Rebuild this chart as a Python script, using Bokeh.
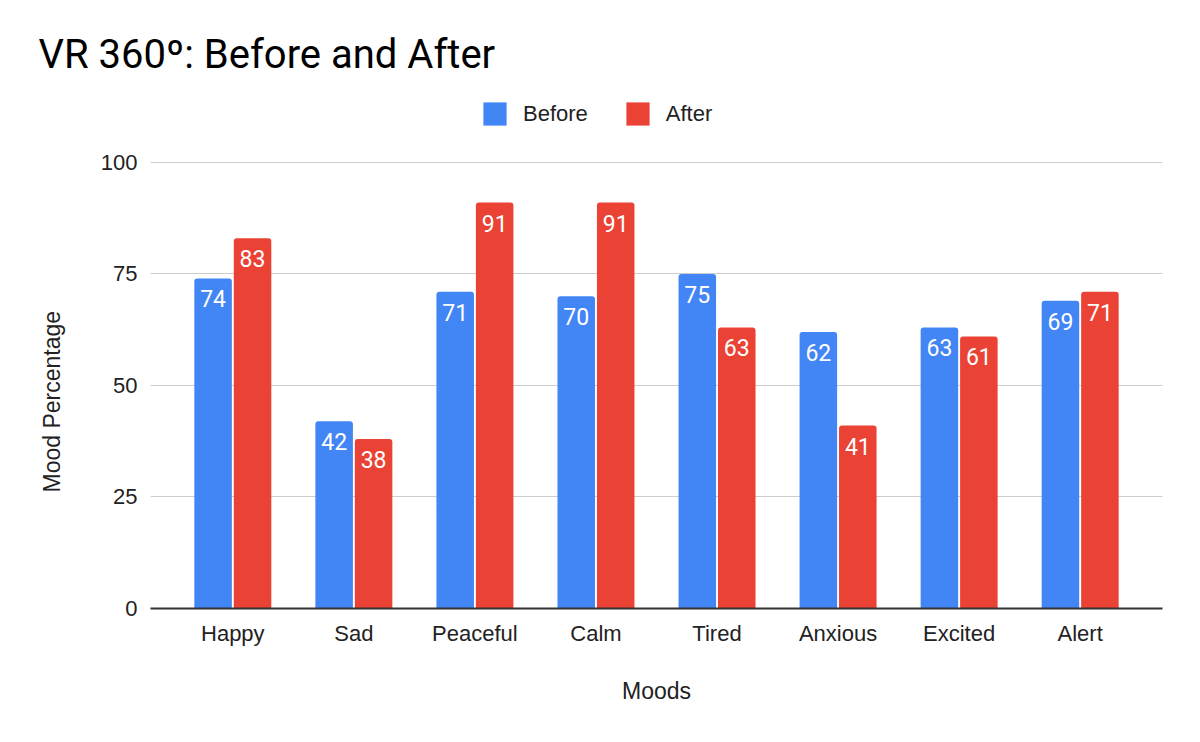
import math
from bokeh.plotting import figure
from bokeh.models import (ColumnDataSource, FactorRange, Range1d, LabelSet, Title,
                          Legend, LegendItem, FixedTicker)
from bokeh.transform import dodge
from bokeh.core.properties import value
from bokeh.embed import file_html
from bokeh.resources import INLINE

moods = ["Happy", "Sad", "Peaceful", "Calm", "Tired", "Anxious", "Excited", "Alert"]
before = [74, 42, 71, 70, 75, 62, 63, 69]
after = [83, 38, 91, 91, 63, 41, 61, 71]
y_ticks = [0, 25, 50, 75, 100]

BLUE = "#4285F4"
RED = "#EA4335"

src = ColumnDataSource(dict(
    mood=moods,
    before=before,
    after=after,
    before_txt=[str(v) for v in before],
    after_txt=[str(v) for v in after],
))

# frame spans from page y=95 (top, holds legend) to y=608 (zero line)
p = figure(
    width=1184, height=726,
    x_range=FactorRange(factors=moods, range_padding=0.18, range_padding_units="absolute"),
    y_range=Range1d(0, 115.0),
    output_backend="svg", toolbar_location=None,
    min_border_left=150, min_border_right=22, min_border_top=95, min_border_bottom=118,
    title="VR 360º: Before and After",
)
p.outline_line_color = None
p.background_fill_color = "white"

p.title.text_font = "Roboto"
p.title.text_font_size = "40px"
p.title.text_font_style = "normal"
p.title.text_color = "#000000"
p.title.align = "left"
p.title.offset = -112
p.title.standoff = 36

OFF = 0.163
W = 0.31
rb = p.vbar(x=dodge("mood", -OFF, range=p.x_range), top="before", width=W, source=src,
            fill_color=BLUE, line_color=None, border_radius=(3, 3, 0, 0))
rr = p.vbar(x=dodge("mood", OFF, range=p.x_range), top="after", width=W, source=src,
            fill_color=RED, line_color=None, border_radius=(3, 3, 0, 0))

lab_font = value("Roboto")
p.add_layout(LabelSet(x=dodge("mood", -OFF, range=p.x_range), y="before", text="before_txt",
                      source=src, y_offset=-29, text_align="center", text_baseline="alphabetic",
                      text_color="white", text_font=lab_font, text_font_size="23px"))
p.add_layout(LabelSet(x=dodge("mood", OFF, range=p.x_range), y="after", text="after_txt",
                      source=src, y_offset=-29, text_align="center", text_baseline="alphabetic",
                      text_color="white", text_font=lab_font, text_font_size="23px"))

# axes
p.xgrid.grid_line_color = None
p.ygrid.grid_line_color = "#cccccc"
p.ygrid.grid_line_width = 1
p.yaxis.ticker = FixedTicker(ticks=y_ticks)
p.yaxis.axis_line_color = None
p.yaxis.major_tick_line_color = None
p.yaxis.minor_tick_line_color = None
p.yaxis.major_label_standoff = 7
p.yaxis.major_label_text_font = "Liberation Sans"
p.yaxis.major_label_text_font_size = "22px"
p.yaxis.major_label_text_color = "#222222"

ytitle = Title(text="Mood Percentage", align="left", offset=116, standoff=65,
               text_font="Liberation Sans", text_font_size="23px",
               text_font_style="normal", text_color="#222222")
p.add_layout(ytitle, "left")

p.xaxis.axis_line_color = "#333333"
p.xaxis.axis_line_width = 2
p.xaxis.major_tick_line_color = None
p.xaxis.minor_tick_line_color = None
p.xaxis.major_label_standoff = 6
p.xaxis.major_label_text_font = "Liberation Sans"
p.xaxis.major_label_text_font_size = "22px"
p.xaxis.major_label_text_color = "#222222"
p.xaxis.axis_label = "Moods"
p.xaxis.axis_label_text_font = "Liberation Sans"
p.xaxis.axis_label_text_font_size = "23px"
p.xaxis.axis_label_text_font_style = "normal"
p.xaxis.axis_label_text_color = "#222222"
p.xaxis.axis_label_standoff = 29

legend = Legend(items=[LegendItem(label="Before", renderers=[rb]),
                       LegendItem(label="After", renderers=[rr])],
                location=(330, 480), orientation="horizontal",
                glyph_width=29, glyph_height=29, label_standoff=14, spacing=35,
                padding=0, margin=0, border_line_color=None, background_fill_alpha=0,
                label_text_font="Liberation Sans", label_text_font_size="22px",
                label_text_color="#222222", label_height=29)
p.add_layout(legend, "center")

open("out.html", "w").write(file_html(p, INLINE))
